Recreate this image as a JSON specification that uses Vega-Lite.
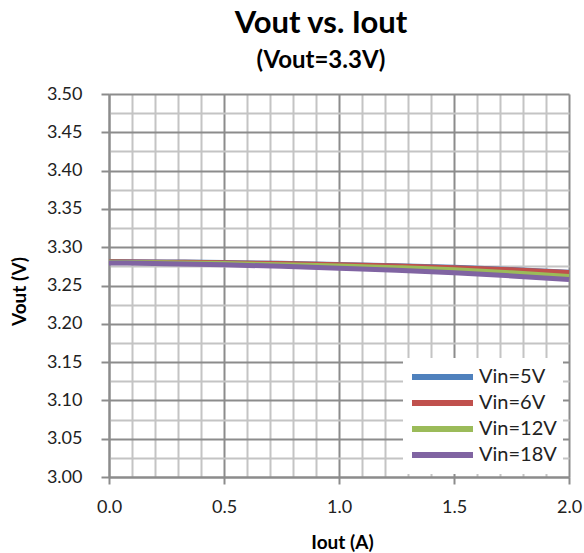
{
  "$schema": "https://vega.github.io/schema/vega-lite/v6.json",
  "width": 460,
  "height": 383,
  "autosize": {"type": "none"},
  "padding": {"left": 109, "top": 94, "right": 15, "bottom": 76},
  "background": "white",
  "config": {"view": {"stroke": null}},
  "title": {
    "text": "Vout vs. Iout",
    "subtitle": "(Vout=3.3V)",
    "font": "Lato",
    "fontSize": 31,
    "fontWeight": "bold",
    "color": "#000000",
    "subtitleFont": "Lato",
    "subtitleFontSize": 24,
    "subtitleFontWeight": "bold",
    "subtitleColor": "#000000",
    "anchor": "middle",
    "frame": "group",
    "offset": 11,
    "subtitlePadding": 9,
    "dx": -18
  },
  "data": {
    "values": [
      {"Vin": "Vin=5V", "Iout": 0, "Vout": 3.2813},
      {"Vin": "Vin=5V", "Iout": 0.25, "Vout": 3.2808},
      {"Vin": "Vin=5V", "Iout": 0.5, "Vout": 3.2800},
      {"Vin": "Vin=5V", "Iout": 0.75, "Vout": 3.2789},
      {"Vin": "Vin=5V", "Iout": 1.0, "Vout": 3.2775},
      {"Vin": "Vin=5V", "Iout": 1.25, "Vout": 3.2758},
      {"Vin": "Vin=5V", "Iout": 1.5, "Vout": 3.2737},
      {"Vin": "Vin=5V", "Iout": 1.75, "Vout": 3.2708},
      {"Vin": "Vin=5V", "Iout": 2.0, "Vout": 3.2673},
      {"Vin": "Vin=6V", "Iout": 0, "Vout": 3.2810},
      {"Vin": "Vin=6V", "Iout": 0.25, "Vout": 3.2805},
      {"Vin": "Vin=6V", "Iout": 0.5, "Vout": 3.2797},
      {"Vin": "Vin=6V", "Iout": 0.75, "Vout": 3.2786},
      {"Vin": "Vin=6V", "Iout": 1.0, "Vout": 3.2772},
      {"Vin": "Vin=6V", "Iout": 1.25, "Vout": 3.2755},
      {"Vin": "Vin=6V", "Iout": 1.5, "Vout": 3.2733},
      {"Vin": "Vin=6V", "Iout": 1.75, "Vout": 3.2705},
      {"Vin": "Vin=6V", "Iout": 2.0, "Vout": 3.2670},
      {"Vin": "Vin=12V", "Iout": 0, "Vout": 3.2803},
      {"Vin": "Vin=12V", "Iout": 0.25, "Vout": 3.2796},
      {"Vin": "Vin=12V", "Iout": 0.5, "Vout": 3.2786},
      {"Vin": "Vin=12V", "Iout": 0.75, "Vout": 3.2772},
      {"Vin": "Vin=12V", "Iout": 1.0, "Vout": 3.2755},
      {"Vin": "Vin=12V", "Iout": 1.25, "Vout": 3.2733},
      {"Vin": "Vin=12V", "Iout": 1.5, "Vout": 3.2705},
      {"Vin": "Vin=12V", "Iout": 1.75, "Vout": 3.2665},
      {"Vin": "Vin=12V", "Iout": 2.0, "Vout": 3.2617},
      {"Vin": "Vin=18V", "Iout": 0, "Vout": 3.2795},
      {"Vin": "Vin=18V", "Iout": 0.25, "Vout": 3.2785},
      {"Vin": "Vin=18V", "Iout": 0.5, "Vout": 3.2770},
      {"Vin": "Vin=18V", "Iout": 0.75, "Vout": 3.2750},
      {"Vin": "Vin=18V", "Iout": 1.0, "Vout": 3.2725},
      {"Vin": "Vin=18V", "Iout": 1.25, "Vout": 3.2698},
      {"Vin": "Vin=18V", "Iout": 1.5, "Vout": 3.2665},
      {"Vin": "Vin=18V", "Iout": 1.75, "Vout": 3.2625},
      {"Vin": "Vin=18V", "Iout": 2.0, "Vout": 3.2578}
    ]
  },
  "layer": [
    {
      "mark": {"type": "line", "strokeOpacity": 0},
      "encoding": {
        "x": {
          "field": "Iout", "type": "quantitative",
          "scale": {"domain": [0, 2], "nice": false, "zero": false},
          "axis": {
            "orient": "top",
            "values": [0.1, 0.2, 0.3, 0.4, 0.6, 0.7, 0.8, 0.9, 1.1, 1.2, 1.3, 1.4, 1.6, 1.7, 1.8, 1.9],
            "grid": true, "gridColor": "#c4c4c4", "gridWidth": 2,
            "labels": false, "ticks": false, "domain": false, "title": null
          }
        },
        "y": {
          "field": "Vout", "type": "quantitative",
          "scale": {"domain": [3.0, 3.5], "nice": false, "zero": false},
          "axis": {
            "orient": "right",
            "values": [3.025, 3.075, 3.125, 3.175, 3.225, 3.275, 3.325, 3.375, 3.425, 3.475],
            "grid": true, "gridColor": "#c4c4c4", "gridWidth": 2,
            "labels": false, "ticks": false, "domain": false, "title": null
          }
        },
        "detail": {"field": "Vin", "type": "nominal"}
      }
    },
    {
      "mark": {"type": "line", "strokeWidth": 5, "interpolate": "monotone"},
      "encoding": {
        "x": {
          "field": "Iout", "type": "quantitative",
          "axis": {
            "orient": "bottom",
            "values": [0, 0.5, 1, 1.5, 2],
            "format": ".1f",
            "grid": true, "gridColor": "#8c8c8c", "gridWidth": 2,
            "domainColor": "#8c8c8c", "domainWidth": 2,
            "tickColor": "#8c8c8c", "tickWidth": 2, "tickSize": 7,
            "labelFont": "Lato", "labelFontSize": 18, "labelColor": "#222222",
            "labelPadding": 14, "labelFlush": false, "labelOverlap": false,
            "title": "Iout (A)", "titleFont": "Lato", "titleFontSize": 19,
            "titleFontWeight": "bold", "titleColor": "#000000",
            "titleX": 233, "titleY": 65, "titleBaseline": "middle", "titleAlign": "center"
          }
        },
        "y": {
          "field": "Vout", "type": "quantitative",
          "axis": {
            "orient": "left",
            "values": [3.0, 3.05, 3.1, 3.15, 3.2, 3.25, 3.3, 3.35, 3.4, 3.45, 3.5],
            "format": ".2f",
            "grid": true, "gridColor": "#8c8c8c", "gridWidth": 2,
            "domainColor": "#8c8c8c", "domainWidth": 2,
            "tickColor": "#8c8c8c", "tickWidth": 2, "tickSize": 8,
            "labelFont": "Lato", "labelFontSize": 18, "labelColor": "#222222",
            "labelPadding": 19, "labelFlush": false, "labelOverlap": false,
            "title": "Vout (V)", "titleFont": "Lato", "titleFontSize": 19,
            "titleFontWeight": "bold", "titleColor": "#000000",
            "titleX": -90, "titleY": 197, "titleAngle": -90,
            "titleBaseline": "middle", "titleAlign": "center"
          }
        },
        "color": {
          "field": "Vin", "type": "nominal",
          "scale": {
            "domain": ["Vin=5V", "Vin=6V", "Vin=12V", "Vin=18V"],
            "range": ["#4F81BD", "#C0504D", "#9BBB59", "#8064A2"]
          },
          "legend": {
            "orient": "none", "legendX": 294, "legendY": 264,
            "title": null,
            "symbolType": "stroke", "symbolSize": 3721, "symbolStrokeWidth": 6,
            "clipHeight": 26, "rowPadding": 0,
            "fillColor": "white", "strokeColor": null, "padding": 6,
            "labelFont": "Lato", "labelFontSize": 20, "labelColor": "#222222",
            "labelOffset": 3
          }
        }
      }
    }
  ],
  "resolve": {"axis": {"x": "independent", "y": "independent"}}
}
